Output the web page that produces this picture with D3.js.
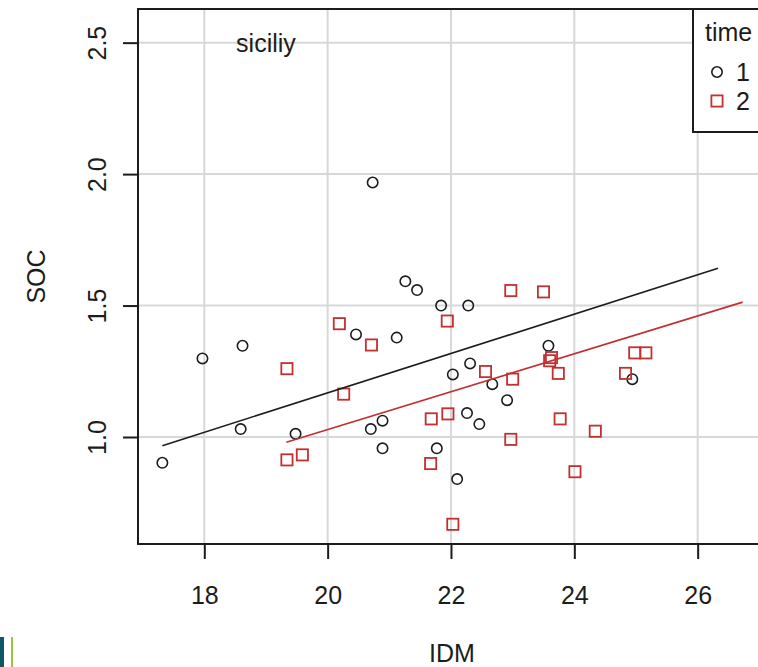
<!DOCTYPE html>
<html>
<head>
<meta charset="utf-8">
<script src="https://cdn.jsdelivr.net/npm/d3@7"></script>
<style>
  body { margin: 0; background: #fff; }
  svg { display: block; font-family: "Liberation Sans", Arial, sans-serif; }
</style>
</head>
<body>
<div id="chart"></div>
<script>
// time 1 points (circles)
var idm1 = [17.32, 17.97, 18.62, 18.59, 19.48, 20.46, 20.70, 20.73, 20.89, 20.89,
            21.12, 21.26, 21.45, 21.84, 22.28, 21.77, 22.03, 22.10, 22.31, 22.26,
            22.46, 22.67, 22.91, 23.58, 24.94]
var soc1 = [0.902, 1.299, 1.347, 1.030, 1.012, 1.390, 1.030, 1.968, 1.062, 0.957,
            1.378, 1.592, 1.559, 1.500, 1.500, 0.957, 1.238, 0.840, 1.280, 1.091,
            1.049, 1.201, 1.140, 1.347, 1.220]

// time 2 points (squares)
var idm2 = [19.34, 20.19, 20.26, 19.34, 19.59, 20.71, 21.94, 22.97, 23.50, 22.56,
            23.00, 23.63, 23.60, 23.74, 21.68, 21.95, 22.97, 23.77, 24.34, 21.67,
            24.01, 22.03, 24.83, 24.98, 25.16]
var soc2 = [1.260, 1.431, 1.163, 0.913, 0.932, 1.350, 1.441, 1.557, 1.552, 1.249,
            1.220, 1.302, 1.290, 1.242, 1.069, 1.088, 0.991, 1.069, 1.022, 0.899,
            0.868, 0.668, 1.242, 1.320, 1.320]

// fitted lines: [x start, y start, x end, y end]
var fit1 = [17.32, 0.967, 26.33, 1.642]
var fit2 = [19.33, 0.980, 26.73, 1.513]

var xTicks = [18, 20, 22, 24, 26]
var yTicks = [1.0, 1.5, 2.0, 2.5]
var legendTitle = "time"
var groups = ["1", "2"]
var note = {x: 19, y: 2.5, text: "siciliy"}

const W = 758, H = 667
const box = {left: 138, top: 9, right: 766, bottom: 544}
const red = "#c23030", ink = "#1c1c1c"

var svg = d3.select("#chart").append("svg")
  .attr("width", W)
  .attr("height", H)

var x = d3.scaleLinear().domain([16.925, 27.108]).range([box.left, box.right])
var y = d3.scaleLinear().domain([0.593, 2.628]).range([box.bottom, box.top])

// grid
svg.append("g").selectAll("line")
  .data(xTicks).enter().append("line")
  .attr("x1", d => x(d)).attr("x2", d => x(d))
  .attr("y1", box.top).attr("y2", box.bottom)
  .attr("stroke", "#d8d8d8").attr("stroke-width", 2)
svg.append("g").selectAll("line")
  .data(yTicks).enter().append("line")
  .attr("y1", d => y(d)).attr("y2", d => y(d))
  .attr("x1", box.left).attr("x2", box.right)
  .attr("stroke", "#d8d8d8").attr("stroke-width", 2)

// axes
var xAxis = svg.append("g")
  .attr("transform", "translate(0," + box.bottom + ")")
  .call(d3.axisBottom(x).tickValues(xTicks).tickSize(15).tickFormat(d3.format("d")))
xAxis.select(".domain").remove()
xAxis.selectAll("line").attr("stroke", ink).attr("stroke-width", 2)
xAxis.selectAll("text")
  .attr("y", 51).attr("dy", "0.36em")
  .attr("fill", ink).style("font-size", "25px")

var yAxis = svg.append("g")
  .attr("transform", "translate(" + box.left + ",0)")
  .call(d3.axisLeft(y).tickValues(yTicks).tickSize(15).tickFormat(d3.format(".1f")))
yAxis.select(".domain").remove()
yAxis.selectAll("line").attr("stroke", ink).attr("stroke-width", 2)
yAxis.selectAll("text")
  .attr("x", 0).attr("y", 0).attr("dy", "0.36em")
  .attr("text-anchor", "middle")
  .attr("transform", "translate(-41,0) rotate(-90)")
  .attr("fill", ink).style("font-size", "25px")

// axis titles
svg.append("text")
  .attr("x", (box.left + box.right) / 2).attr("y", 653).attr("dy", "0.36em")
  .attr("text-anchor", "middle").attr("fill", ink)
  .style("font-size", "25px").text("IDM")
svg.append("text")
  .attr("transform", "translate(36," + (box.top + box.bottom) / 2 + ") rotate(-90)")
  .attr("dy", "0.36em")
  .attr("text-anchor", "middle").attr("fill", ink)
  .style("font-size", "25px").text("SOC")

// plot box
svg.append("rect")
  .attr("x", box.left).attr("y", box.top)
  .attr("width", box.right - box.left).attr("height", box.bottom - box.top)
  .attr("fill", "none").attr("stroke", ink).attr("stroke-width", 2)

// points time 1
var pts1 = idm1.map((v, i) => ({x: v, y: soc1[i]}))
svg.append("g").selectAll("circle")
  .data(pts1).enter().append("circle")
  .attr("cx", d => x(d.x)).attr("cy", d => y(d.y))
  .attr("r", 5.2)
  .attr("fill", "none").attr("stroke", ink).attr("stroke-width", 1.6)

// points time 2
var pts2 = idm2.map((v, i) => ({x: v, y: soc2[i]}))
svg.append("g").selectAll("rect")
  .data(pts2).enter().append("rect")
  .attr("x", d => x(d.x) - 5.6).attr("y", d => y(d.y) - 5.6)
  .attr("width", 11.2).attr("height", 11.2)
  .attr("fill", "none").attr("stroke", red).attr("stroke-width", 1.8)

// fitted lines
svg.append("line")
  .attr("x1", x(fit1[0])).attr("y1", y(fit1[1]))
  .attr("x2", x(fit1[2])).attr("y2", y(fit1[3]))
  .attr("stroke", ink).attr("stroke-width", 1.6)
svg.append("line")
  .attr("x1", x(fit2[0])).attr("y1", y(fit2[1]))
  .attr("x2", x(fit2[2])).attr("y2", y(fit2[3]))
  .attr("stroke", red).attr("stroke-width", 1.6)

// note
svg.append("text")
  .attr("x", x(note.x)).attr("y", y(note.y)).attr("dy", "0.36em")
  .attr("text-anchor", "middle").attr("fill", ink)
  .style("font-size", "25px").text(note.text)

// legend
var lg = svg.append("g")
lg.append("rect")
  .attr("x", 693).attr("y", box.top).attr("width", 120).attr("height", 123)
  .attr("fill", "#fff").attr("stroke", ink).attr("stroke-width", 2)
lg.append("text")
  .attr("x", 705).attr("y", 32).attr("dy", "0.36em")
  .attr("fill", ink).style("font-size", "25px").text(legendTitle)
groups.forEach(function(g, i) {
  var cy = 72 + i * 29
  if (i == 0) {
    lg.append("circle").attr("cx", 717).attr("cy", cy).attr("r", 5.2)
      .attr("fill", "none").attr("stroke", ink).attr("stroke-width", 1.6)
  } else {
    lg.append("rect").attr("x", 711.4).attr("y", cy - 5.6).attr("width", 11.2).attr("height", 11.2)
      .attr("fill", "none").attr("stroke", red).attr("stroke-width", 1.8)
  }
  lg.append("text")
    .attr("x", 736).attr("y", cy).attr("dy", "0.36em")
    .attr("fill", ink).style("font-size", "25px").text(g)
})

// edge marks at bottom left of the screenshot
svg.append("rect").attr("x", 0).attr("y", 637).attr("width", 4).attr("height", 30).attr("fill", "#0d5a66")
svg.append("rect").attr("x", 11).attr("y", 637).attr("width", 2).attr("height", 30).attr("fill", "#9cc43e")
</script>
</body>
</html>
